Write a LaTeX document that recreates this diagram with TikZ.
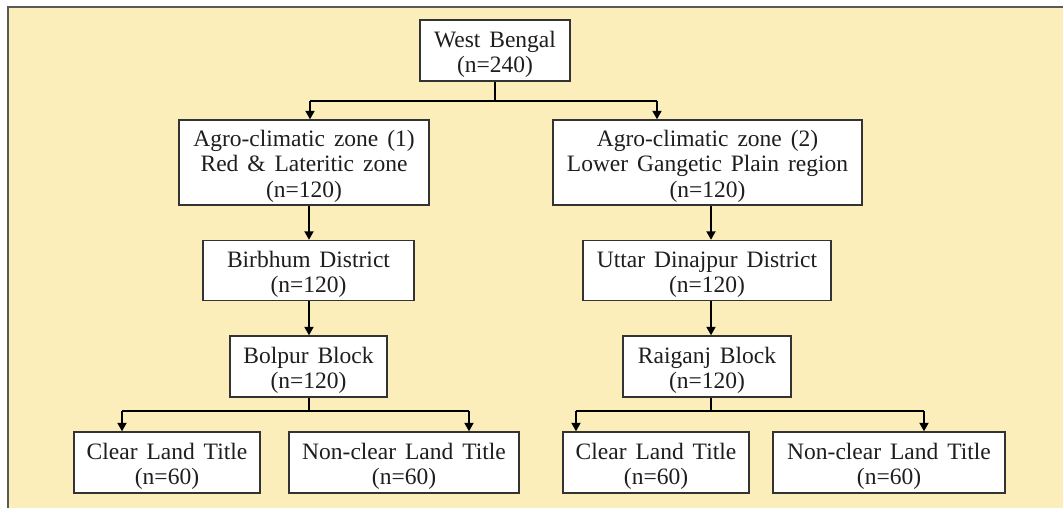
\documentclass[tikz,border=0pt]{standalone}
\usepackage{fontspec}
\setmainfont{Liberation Serif}
\usetikzlibrary{arrows.meta,calc}
\definecolor{bgyellow}{HTML}{FCEEBB}
\definecolor{frame}{HTML}{5A5A55}
\definecolor{boxline}{HTML}{333333}
\definecolor{txt}{HTML}{1E1E1E}
\newcommand\bxfont{\fontsize{23.5}{25.5}\selectfont\spaceskip=8.9pt plus 2pt minus 1pt\relax}
\newcommand\bxstrut{\vrule height 24pt depth 0pt width 0pt\relax}
\begin{document}
\begin{tikzpicture}[x=1pt,y=-1pt,
  box/.style={draw=boxline,line width=1.4pt,fill=white,inner sep=0pt,align=center,
    text=txt,font=\bxfont},
  arr/.style={line width=1.8pt,draw=black,-{Triangle[width=9pt,length=8.5pt]}},
  ln/.style={line width=1.8pt,draw=black}]
\useasboundingbox (0,0) rectangle (1063,508);
\fill[bgyellow] (8,7) rectangle (1063,508);
\draw[frame,line width=2pt] (8,508) -- (8,7) -- (1063,7);

\node[box,minimum width=150pt,minimum height=61pt] (wb) at (495,50.5) {\bxstrut West Bengal\\(n=240)};
\node[box,minimum width=250pt,minimum height=85pt] (z1) at (304,162.5) {\bxstrut Agro-climatic zone (1)\\Red \& Lateritic zone\\(n=120)};
\node[box,minimum width=309pt,minimum height=85pt] (z2) at (707.5,162.5) {\bxstrut Agro-climatic zone (2)\\Lower Gangetic Plain region\\(n=120)};
\node[box,minimum width=211pt,minimum height=60pt] (bd) at (308.5,270.5) {\bxstrut Birbhum District\\(n=120)};
\node[box,minimum width=248pt,minimum height=60pt] (ud) at (707,270.5) {\bxstrut Uttar Dinajpur District\\(n=120)};
\node[box,minimum width=157pt,minimum height=61pt] (bb) at (308.5,366.5) {\bxstrut Bolpur Block\\(n=120)};
\node[box,minimum width=168pt,minimum height=61pt] (rb) at (707,366.5) {\bxstrut Raiganj Block\\(n=120)};
\node[box,minimum width=186pt,minimum height=61pt] (c1) at (167,462.5) {\bxstrut Clear Land Title\\(n=60)};
\node[box,minimum width=230pt,minimum height=61pt] (n1) at (404,462.5) {\bxstrut Non-clear Land Title\\(n=60)};
\node[box,minimum width=186pt,minimum height=61pt] (c2) at (656,462.5) {\bxstrut Clear Land Title\\(n=60)};
\node[box,minimum width=232pt,minimum height=61pt] (n2) at (889,462.5) {\bxstrut Non-clear Land Title\\(n=60)};

\coordinate (lx) at (309,0);
\coordinate (rx) at (711,0);
\coordinate (z1x) at (310,0);
\coordinate (z2x) at (657,0);
\coordinate (c1x) at (122,0);
\coordinate (n1x) at (469,0);
\coordinate (c2x) at (576,0);
\coordinate (n2x) at (924,0);
\coordinate (h1) at (0,101);
\coordinate (h2) at (0,411);

% top split
\draw[ln] (wb.south) -- (wb.south |- h1);
\draw[arr] (z1x |- h1) -- (z1x |- z1.north);
\draw[arr] (z2x |- h1) -- (z2x |- z2.north);
\draw[ln] (z1x |- h1) -- (z2x |- h1);

% left chain
\draw[arr] (z1.south -| lx) -- (bd.north -| lx);
\draw[arr] (bd.south -| lx) -- (bb.north -| lx);
% right chain
\draw[arr] (z2.south -| rx) -- (ud.north -| rx);
\draw[arr] (ud.south -| rx) -- (rb.north -| rx);

% bottom splits
\draw[ln] (bb.south -| lx) -- (lx |- h2);
\draw[ln] (c1x |- h2) -- (n1x |- h2);
\draw[arr] (c1x |- h2) -- (c1x |- c1.north);
\draw[arr] (n1x |- h2) -- (n1x |- n1.north);

\draw[ln] (rb.south -| rx) -- (rx |- h2);
\draw[ln] (c2x |- h2) -- (n2x |- h2);
\draw[arr] (c2x |- h2) -- (c2x |- c2.north);
\draw[arr] (n2x |- h2) -- (n2x |- n2.north);
\end{tikzpicture}
\end{document}
